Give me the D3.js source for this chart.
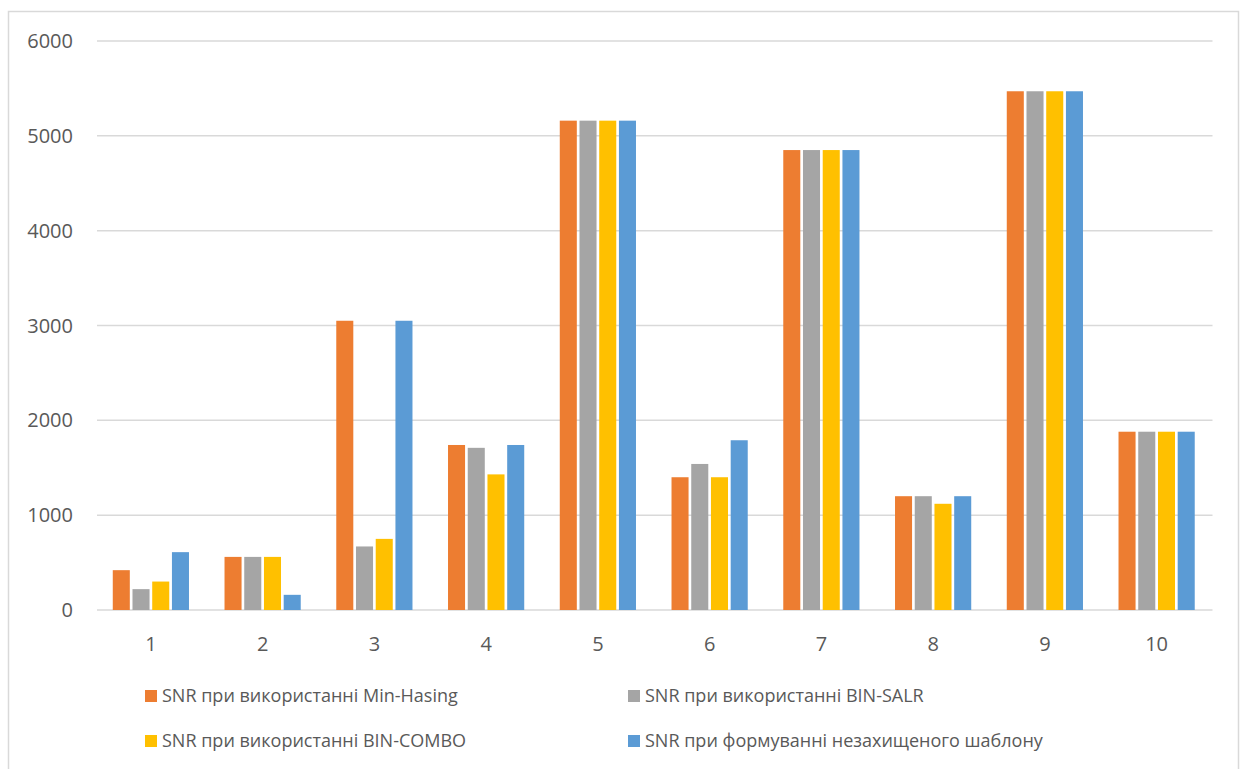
<!DOCTYPE html>
<html>
<head>
<meta charset="utf-8">
<script src="https://cdn.jsdelivr.net/npm/d3@7"></script>
<style>
  html, body { margin: 0; padding: 0; background: #fff; }
  svg { display: block; font-family: "Open Sans", "Noto Sans", sans-serif; }
</style>
</head>
<body>
<svg id="chart" width="1244" height="769"></svg>
<script>
// Experiment numbers (x axis)
const categories = ["1", "2", "3", "4", "5", "6", "7", "8", "9", "10"];

// SNR values for each method
const minHashing = [420, 560, 3050, 1740, 5160, 1400, 4850, 1200, 5470, 1880];
const binSalr    = [220, 560, 670, 1710, 5160, 1540, 4850, 1200, 5470, 1880];
const binCombo   = [300, 560, 750, 1430, 5160, 1400, 4850, 1120, 5470, 1880];
const unprotected = [610, 160, 3050, 1740, 5160, 1790, 4850, 1200, 5470, 1880];

const seriesNames = [
  "SNR при використанні Min-Hasing",
  "SNR при використанні BIN-SALR",
  "SNR при використанні BIN-COMBO",
  "SNR при формуванні незахищеного шаблону"
];
const seriesColors = ["#ED7D31", "#A5A5A5", "#FFC000", "#5B9BD5"];
const yTicks = [0, 1000, 2000, 3000, 4000, 5000, 6000];

const seriesValues = [minHashing, binSalr, binCombo, unprotected];

const svg = d3.select("#chart");

// outer chart frame
svg.append("rect")
  .attr("x", 8.5).attr("y", 11.5)
  .attr("width", 1230).attr("height", 770)
  .attr("fill", "#fff")
  .attr("stroke", "#D9D9D9")
  .attr("stroke-width", 1.5);

const plotLeft = 95, plotRight = 1212.5;
const y = d3.scaleLinear().domain([0, 6000]).range([610, 41]);

const x0 = d3.scaleBand()
  .domain(categories)
  .range([plotLeft, plotRight])
  .paddingInner(0.318)
  .paddingOuter(0.159);

const x1 = d3.scaleBand()
  .domain(d3.range(seriesNames.length))
  .range([0, x0.bandwidth()])
  .paddingInner(0.136)
  .paddingOuter(0);

// horizontal gridlines
svg.append("g")
  .selectAll("line")
  .data(yTicks)
  .join("line")
  .attr("x1", plotLeft + 2)
  .attr("x2", plotRight)
  .attr("y1", d => y(d))
  .attr("y2", d => y(d))
  .attr("stroke", "#D9D9D9")
  .attr("stroke-width", 1.5);

// y-axis tick labels
svg.append("g")
  .selectAll("text")
  .data(yTicks)
  .join("text")
  .attr("x", 73)
  .attr("y", d => y(d))
  .attr("dy", "0.35em")
  .attr("text-anchor", "end")
  .attr("fill", "#595959")
  .attr("font-size", 20)
  .text(d => d);

// bars
const groups = svg.append("g")
  .selectAll("g")
  .data(categories)
  .join("g")
  .attr("transform", d => `translate(${x0(d)},0)`);

groups.selectAll("rect")
  .data((d, i) => seriesValues.map((vals, s) => ({ s, v: vals[i] })))
  .join("rect")
  .attr("x", d => x1(d.s))
  .attr("width", x1.bandwidth())
  .attr("y", d => y(d.v))
  .attr("height", d => y(0) - y(d.v))
  .attr("fill", d => seriesColors[d.s]);

// x-axis category labels
svg.append("g")
  .selectAll("text")
  .data(categories)
  .join("text")
  .attr("x", d => x0(d) + x0.bandwidth() / 2)
  .attr("y", 644)
  .attr("dy", "0.35em")
  .attr("text-anchor", "middle")
  .attr("fill", "#595959")
  .attr("font-size", 20)
  .text(d => d);

// legend: two columns, two rows
const legendPos = [
  { x: 145, y: 696 },
  { x: 628, y: 696 },
  { x: 145, y: 741 },
  { x: 628, y: 741 }
];
const legend = svg.append("g")
  .selectAll("g")
  .data(seriesNames)
  .join("g")
  .attr("transform", (d, i) => `translate(${legendPos[i].x},${legendPos[i].y})`);

legend.append("rect")
  .attr("x", 0).attr("y", -6)
  .attr("width", 12).attr("height", 12)
  .attr("fill", (d, i) => seriesColors[i]);

legend.append("text")
  .attr("x", 17)
  .attr("y", 0)
  .attr("dy", "0.35em")
  .attr("fill", "#595959")
  .attr("font-size", 18)
  .text(d => d);
</script>
</body>
</html>
